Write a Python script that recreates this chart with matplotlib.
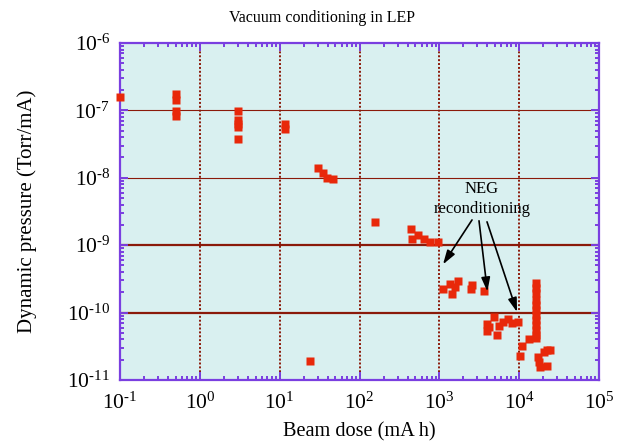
import numpy as np
import matplotlib
matplotlib.use('Agg')
import matplotlib.pyplot as plt
from matplotlib.ticker import LogLocator, NullFormatter, FuncFormatter

plt.rcParams['font.family'] = ['Liberation Serif', 'DejaVu Serif']
plt.rcParams['mathtext.fontset'] = 'custom'
plt.rcParams['mathtext.rm'] = 'Liberation Serif'
plt.rcParams['axes.unicode_minus'] = False

# beam dose (mA h) and dynamic pressure (Torr/mA)
dose = [0.1,
        0.5, 0.5, 0.5, 0.5,
        3, 3, 3, 3, 3,
        11.7, 11.7,
        24,
        30, 35, 39, 46.6,
        156,
        442, 455, 541, 643, 764, 962,
        1112, 1361, 1443, 1572, 1713, 2493, 2567, 3630,
        3980, 3980, 4190, 4840, 5280, 5600, 6280, 7250, 8130, 9680,
        10230, 10870, 13300,
        16260, 16260, 16260, 16260, 16260, 16260, 16260, 16260, 16260, 16260, 16260, 16260,
        17200, 17740, 18240, 20480, 22330, 22330, 24300]
pressure = [1.58e-7,
            1.75e-7, 1.43e-7, 9.8e-8, 8.26e-8,
            9.8e-8, 7.2e-8, 6.28e-8, 5.67e-8, 3.76e-8,
            6.28e-8, 5.3e-8,
            1.91e-11,
            1.4e-8, 1.18e-8, 9.9e-9, 9.6e-9,
            2.2e-9,
            1.74e-9, 1.24e-9, 1.42e-9, 1.24e-9, 1.11e-9, 1.11e-9,
            2.24e-10, 2.66e-10, 1.89e-10, 2.4e-10, 2.94e-10, 2.24e-10, 2.57e-10, 2.09e-10,
            6.8e-11, 5.3e-11, 6.1e-11, 8.6e-11, 4.65e-11, 6.3e-11, 7.25e-11, 8.04e-11, 7.0e-11, 7.25e-11,
            2.27e-11, 3.2e-11, 4.06e-11,
            2.75e-10, 2.32e-10, 1.95e-10, 1.54e-10, 1.3e-10, 1.09e-10, 9.2e-11, 7.8e-11, 6.5e-11, 5.5e-11, 4.65e-11, 4.2e-11,
            2.19e-11, 1.85e-11, 1.56e-11, 2.6e-11, 2.8e-11, 1.61e-11, 2.8e-11]

x_ticks = [1e-1, 1e0, 1e1, 1e2, 1e3, 1e4, 1e5]
y_ticks = [1e-11, 1e-10, 1e-9, 1e-8, 1e-7, 1e-6]

# NEG reconditioning arrows: (start, tip)
arrow_starts = [(2567, 2.37e-9), (3140, 2.3e-9), (3955, 2.22e-9)]
arrow_tips = [(1112, 5.2e-10), (4000, 2.05e-10), (9400, 1.02e-10)]

purple = '#7a3fe0'
darkred = '#8b1a0a'

fig = plt.figure(figsize=(6.23, 4.43), dpi=100)
ax = fig.add_axes([0.1926, 0.1422, 0.7689, 0.7608])
ax.set_facecolor('#d9f0f0')
ax.set_xscale('log')
ax.set_yscale('log')
ax.set_xlim(1e-1, 1e5)
ax.set_ylim(1e-11, 1e-6)

# reference lines
for yv in [1e-7, 1e-8]:
    ax.axhline(yv, color=darkred, lw=0.8, zorder=1)
for yv in [1e-9, 1e-10]:
    ax.axhline(yv, color=darkred, lw=1.6, zorder=1)
for xv in x_ticks[1:-1]:
    ax.axvline(xv, color=darkred, lw=1.4, ls=(0, (1, 1)), zorder=1)

ax.plot(dose, pressure, 's', color='#e8280a', ms=5.5, mec='none', zorder=3,
        clip_on=False)

ax.text(3430, 4.84e-9, 'NEG\nreconditioning', ha='center', va='center',
        fontsize=12, linespacing=1.35)
for start, tip in zip(arrow_starts, arrow_tips):
    ax.annotate('', xy=tip, xytext=start,
                arrowprops=dict(arrowstyle='-|>,head_length=0.7,head_width=0.22',
                                color='black', lw=1.2, shrinkA=0, shrinkB=0,
                                mutation_scale=12))

for sp in ax.spines.values():
    sp.set_color(purple)
    sp.set_linewidth(1.6)


def pow_label(v, pos):
    e = int(round(np.log10(v)))
    if e < 0:
        return r'$\mathdefault{10^{\text{-%d}}}$' % (-e)
    return r'$\mathdefault{10^{%d}}$' % e


ax.set_xticks(x_ticks)
ax.set_yticks(y_ticks)
ax.xaxis.set_minor_locator(LogLocator(base=10, subs=np.arange(2, 10), numticks=20))
ax.yaxis.set_minor_locator(LogLocator(base=10, subs=np.arange(2, 10), numticks=20))
ax.xaxis.set_major_formatter(FuncFormatter(pow_label))
ax.yaxis.set_major_formatter(FuncFormatter(pow_label))
ax.xaxis.set_minor_formatter(NullFormatter())
ax.yaxis.set_minor_formatter(NullFormatter())
ax.set_xlim(1e-1, 1e5)
ax.set_ylim(1e-11, 1e-6)
ax.tick_params(which='both', direction='in', color=purple, top=True, right=True,
               labelsize=15.5, width=1.4)
ax.tick_params(which='major', length=6)
ax.tick_params(axis='x', which='major', pad=9)
ax.tick_params(axis='y', which='major', pad=7)
ax.tick_params(which='minor', length=3)

fig.text(0.517, 0.96, 'Vacuum conditioning in LEP', fontsize=11.5,
         ha='center', va='center')
ax.set_xlabel('Beam dose (mA h)', fontsize=14.6)
ax.set_ylabel('Dynamic pressure (Torr/mA)', fontsize=15)
ax.xaxis.set_label_coords(0.5, -0.154)
ax.yaxis.set_label_coords(-0.194, 0.5)
ax.xaxis.label.set_va('center')
ax.yaxis.label.set_va('center')

fig.savefig('out.png', dpi=100)
